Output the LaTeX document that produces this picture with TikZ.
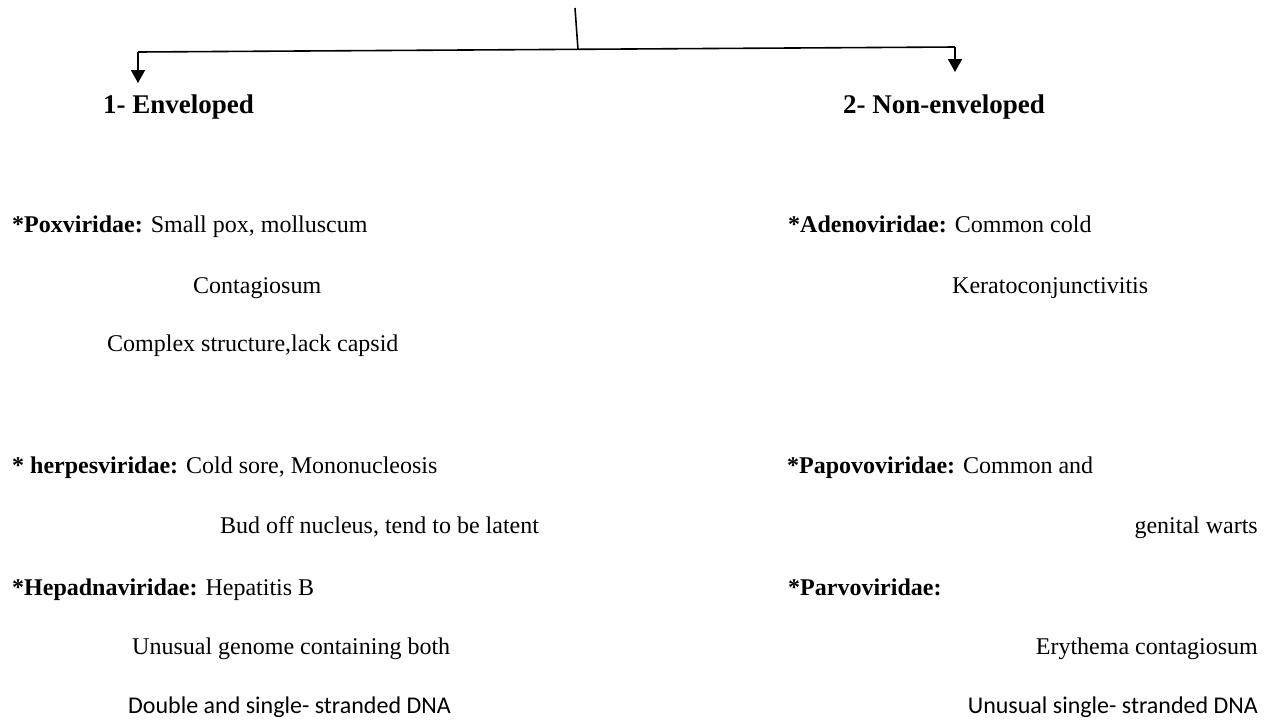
\documentclass[tikz,border=0pt]{standalone}
\usepackage{fontspec}
\setmainfont{Liberation Serif}
\newfontfamily\calfont{Carlito}
\usetikzlibrary{arrows.meta}
\begin{document}
\begin{tikzpicture}[x=1pt,y=-1pt,
  txt/.style={inner sep=0pt,anchor=base west,font=\fontsize{24}{28}\selectfont},
  head/.style={inner sep=0pt,anchor=base west,font=\fontsize{27}{31}\selectfont\bfseries},
  rtxt/.style={txt,anchor=base east},
  ctxt/.style={inner sep=0pt,anchor=base west,font=\fontsize{24}{28}\selectfont\calfont},
  rctxt/.style={ctxt,anchor=base east},
  conn/.style={line width=1.6pt},
  arr/.style={conn,-{Triangle[length=13pt,width=14pt]}}]
\useasboundingbox (0,0) rectangle (1272,721);
% connectors
\coordinate (top) at (575,8);
\coordinate (mid) at (578,49.3);
\coordinate (L) at (138,52);
\coordinate (R) at (955,47);
\coordinate (Ltip) at (138,83);
\coordinate (Rtip) at (955,72);
\draw[conn] (top) -- (mid);
\draw[conn] (L) -- (R);
\draw[arr] (L) -- (Ltip);
\draw[arr] (R) -- (Rtip);
% headings
\node[head] (env) at (103,113) {1- Enveloped};
\node[head] (nonenv) at (843,113) {2- Non-enveloped};
% left column
\node[txt] (pox) at (12,232) {\textbf{*Poxviridae:} Small pox, molluscum};
\node[txt] (pox2) at (193,293) {Contagiosum};
\node[txt] (pox3) at (107,351) {Complex structure,lack capsid};
\node[txt] (herp) at (12,473) {\textbf{* herpesviridae:} Cold sore, Mononucleosis};
\node[txt] (herp2) at (220,533) {Bud off nucleus, tend to be latent};
\node[txt] (hep) at (12,595) {\textbf{*Hepadnaviridae:} Hepatitis B};
\node[txt] (hep2) at (132,654) {Unusual genome containing both};
\node[ctxt] (hep3) at (128,713) {Double and single- stranded DNA};
% right column
\node[txt] (adeno) at (788,232) {\textbf{*Adenoviridae:} Common cold};
\node[txt] (adeno2) at (952,293) {Keratoconjunctivitis};
\node[txt] (papo) at (787,473) {\textbf{*Papovoviridae:} Common and};
\node[rtxt] (papo2) at (1258,533) {genital warts};
\node[txt] (parvo) at (788,595) {\textbf{*Parvoviridae:}};
\node[rtxt] (parvo2) at (1258,654) {Erythema contagiosum};
\node[rctxt] (parvo3) at (1258,713) {Unusual single- stranded DNA};
\end{tikzpicture}
\end{document}
